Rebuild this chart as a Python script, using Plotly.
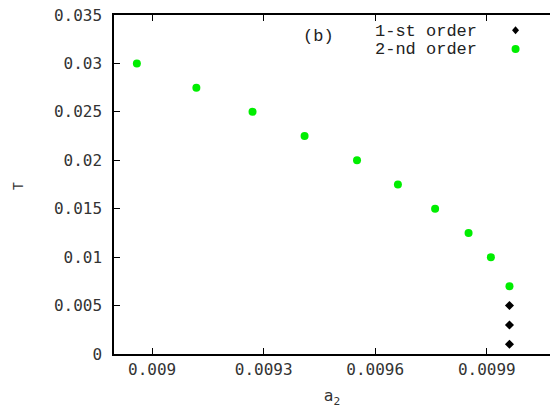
import plotly.graph_objects as go

# 2-nd order points
a2_second = [0.008959, 0.009119, 0.009270, 0.009410, 0.009551, 0.009661, 0.009761, 0.009851, 0.009911, 0.009961]
T_second = [0.030, 0.0275, 0.025, 0.0225, 0.020, 0.0175, 0.015, 0.0125, 0.010, 0.007]
# 1-st order points
a2_first = [0.009961, 0.009961, 0.009961]
T_first = [0.005, 0.003, 0.001]

x_ticks = [0.009, 0.0093, 0.0096, 0.0099]
x_tick_labels = ["0.009", "0.0093", "0.0096", "0.0099"]
y_ticks = [0, 0.005, 0.01, 0.015, 0.02, 0.025, 0.03, 0.035]
y_tick_labels = ["0", "0.005", "0.01", "0.015", "0.02", "0.025", "0.03", "0.035"]

GREEN = "#00ee00"
tickfont = dict(family="DejaVu Sans Mono", size=16, color="#333333")
courier = "Liberation Mono"

fig = go.Figure()
fig.add_trace(go.Scatter(x=a2_second, y=T_second, mode="markers", name="2-nd order",
                         marker=dict(color=GREEN, size=8, symbol="circle"), showlegend=False))
fig.add_trace(go.Scatter(x=a2_first, y=T_first, mode="markers", name="1-st order",
                         marker=dict(color="black", size=7, symbol="diamond"), showlegend=False))

fig.update_layout(
    width=550, height=410,
    margin=dict(l=114, r=0, t=15, b=56, autoexpand=False),
    plot_bgcolor="white", paper_bgcolor="white",
    xaxis=dict(range=[0.0088975, 0.01007], tickvals=x_ticks, ticktext=x_tick_labels,
               ticks="inside", ticklen=6, tickcolor="black", showline=True, linecolor="black",
               linewidth=1.5, mirror="ticks", showgrid=False, zeroline=False, tickfont=tickfont,
               automargin=False,
               title=dict(text="a<sub>2</sub>", font=dict(family="DejaVu Sans Mono", size=16, color="#333333"), standoff=12)),
    yaxis=dict(range=[0, 0.035], tickvals=y_ticks, ticktext=y_tick_labels,
               ticks="inside", ticklen=6, tickcolor="black", showline=True, linecolor="black",
               linewidth=1.5, showgrid=False, zeroline=False, tickfont=tickfont,
               automargin=False, ticklabelstandoff=7),
    showlegend=False,
)

fig.add_annotation(x=-(114 - 19) / 436.0, y=0.495, xref="paper", yref="paper", text="T", showarrow=False,
                   textangle=-90, xanchor="center", yanchor="middle",
                   font=dict(family=courier, size=14, color="#333333"))

fig.add_annotation(x=0.47, y=0.938, xref="paper", yref="paper", text="(b)", showarrow=False,
                   xanchor="center", yanchor="middle", font=dict(family=courier, size=17, color="#222222"))
fig.add_annotation(x=0.838, y=0.951, xref="paper", yref="paper", text="1-st order", showarrow=False,
                   xanchor="right", yanchor="middle", font=dict(family=courier, size=17, color="#222222"))
fig.add_annotation(x=0.838, y=0.899, xref="paper", yref="paper", text="2-nd order", showarrow=False,
                   xanchor="right", yanchor="middle", font=dict(family=courier, size=17, color="#222222"))

# legend symbols (pixel-sized shapes anchored in paper coordinates)
fig.add_shape(type="path", xref="paper", yref="paper", xsizemode="pixel", ysizemode="pixel",
              xanchor=0.921, yanchor=0.955, path="M 0 4 L 3.5 0 L 0 -4 L -3.5 0 Z",
              fillcolor="black", line=dict(width=0))
fig.add_shape(type="circle", xref="paper", yref="paper", xsizemode="pixel", ysizemode="pixel",
              xanchor=0.921, yanchor=0.9, x0=-4, x1=4, y0=-4, y1=4,
              fillcolor=GREEN, line=dict(width=0))

fig.write_html("out.html", config={"displayModeBar": False},
               post_script="document.body.style.margin='0';document.body.style.overflow='hidden';")
